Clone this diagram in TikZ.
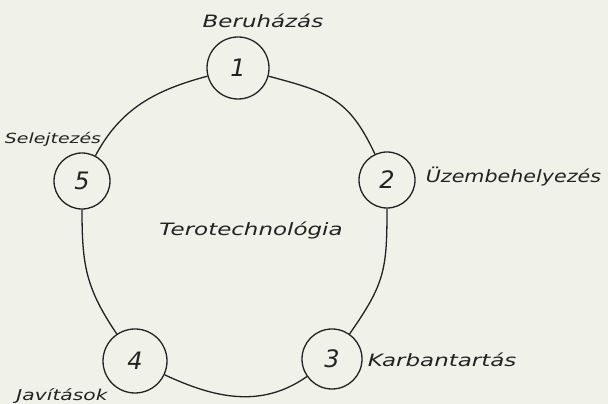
\documentclass[tikz,border=0pt]{standalone}
\usepackage{fontspec}
\setsansfont{DejaVu Sans}
\definecolor{paper}{HTML}{F0F1E9}
\definecolor{ink}{HTML}{222222}
\begin{document}
\begin{tikzpicture}[x=1pt,y=1pt,line width=1.3pt,draw=ink,
  stage/.style={circle,draw=ink,fill=paper,inner sep=0pt,text=ink,
    font=\sffamily\itshape\fontsize{24}{24}\selectfont},
  lbl/.style={text=ink,inner sep=0pt,xscale=1.35,transform shape,
    font=\sffamily\itshape\fontsize{#1}{#1}\selectfont},
  lbl/.default=17]
\fill[paper] (0,0) rectangle (608,404);
\useasboundingbox (0,0) rectangle (608,404);
% stage circles
\node[stage,minimum size=62pt] (n1) at (238,336) {1};
\node[stage,minimum size=56pt] (n2) at (387,224) {2};
\node[stage,minimum size=60pt] (n3) at (332,45) {3};
\node[stage,minimum size=64pt] (n4) at (135,43) {4};
\node[stage,minimum size=56pt] (n5) at (82,223) {5};
% cycle
\draw (n1) to[out=-15,in=115,looseness=1.2] (n2);
\draw (n2) to[out=-90,in=55,looseness=1.2] (n3);
\draw (n3) to[out=215,in=-25] (n4);
\draw (n4) to[out=124,in=-90,looseness=1.1] (n5);
\draw (n5) to[out=62,in=195] (n1);
% labels
\node[lbl] (l1) at (263,383) {Beruházás};
\node[lbl,xscale=0.9,anchor=west] (l2) at (425,227) {Üzembehelyezés};
\node[lbl,anchor=west] (l3) at (367,44) {Karbantartás};
\node[lbl=15] (l4) at (62,8) {Javítások};
\node[lbl=14] (l5) at (53,265) {Selejtezés};
\node[lbl] (l0) at (251,174) {Terotechnológia};
\end{tikzpicture}
\end{document}
